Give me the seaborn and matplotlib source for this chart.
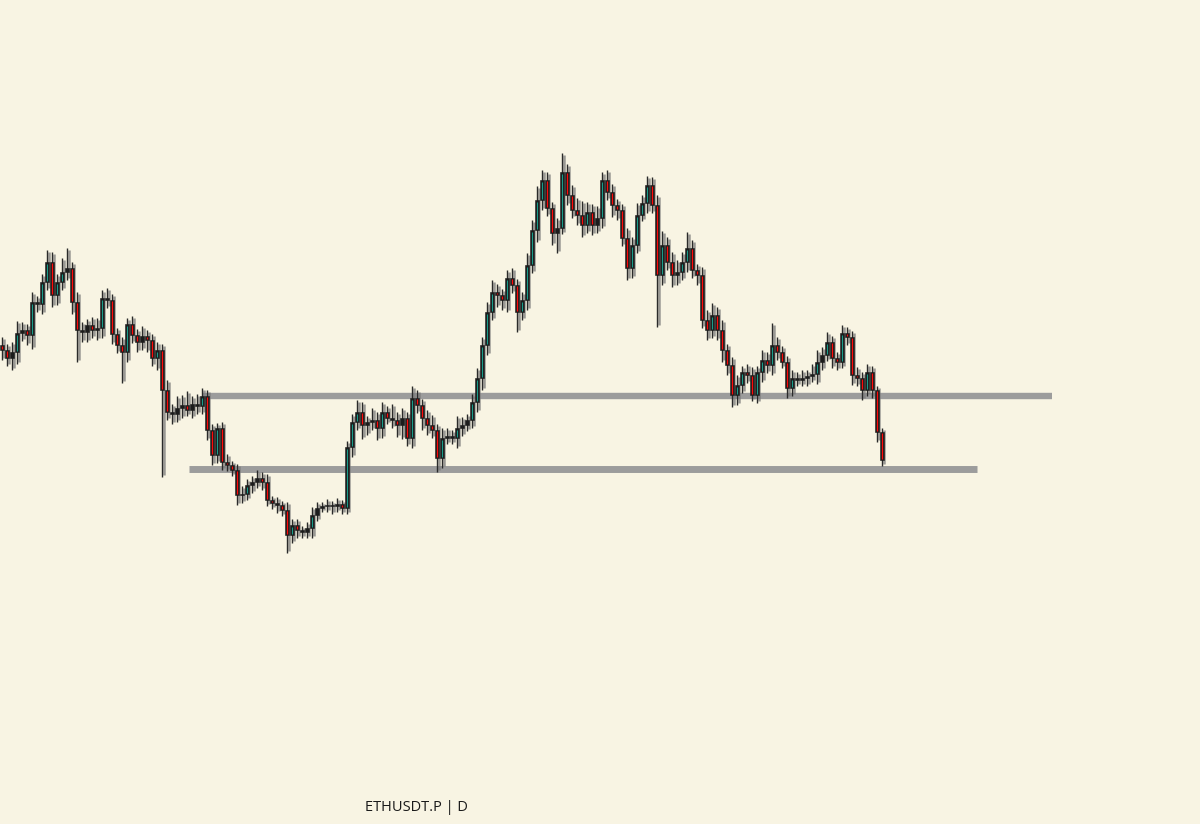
import numpy as np
import pandas as pd
import matplotlib
matplotlib.use("Agg")
import matplotlib.pyplot as plt
import seaborn as sns

# ---- data (daily ETHUSDT.P, price units) ----
first_open = 479
closes = [
    474, 466, 472, 491, 494, 489, 522, 520, 542, 562,
    529, 542, 552, 556, 522, 494, 492, 499, 494, 496,
    526, 524, 490, 479, 472, 500, 489, 482, 488, 484,
    466, 474, 434, 412, 410, 416, 419, 414, 420, 418,
    428, 394, 369, 396, 362, 359, 354, 329, 330, 339,
    342, 346, 342, 324, 321, 319, 314, 289, 299, 294,
    292, 296, 309, 316, 318, 319, 318, 320, 316, 377,
    402, 412, 399, 402, 404, 396, 412, 406, 404, 399,
    406, 386, 426, 419, 406, 399, 394, 366, 386, 388,
    386, 396, 399, 404, 422, 446, 479, 512, 532, 529,
    524, 546, 539, 512, 524, 559, 594, 624, 644, 616,
    591, 596, 652, 629, 614, 609, 599, 612, 599, 606,
    644, 632, 619, 614, 586, 556, 579, 609, 621, 639,
    619, 549, 579, 562, 549, 552, 562, 576, 554, 549,
    504, 494, 509, 494, 474, 459, 429, 439, 452, 449,
    429, 452, 464, 459, 479, 472, 462, 436, 446, 444,
    446, 448, 450, 462, 469, 482, 466, 462, 491, 487,
    449, 446, 434, 452, 434, 392, 364,
]
upper_wick = [
    8, 6, 10, 12, 8, 6, 10, 6, 8, 12,
    10, 8, 14, 20, 6, 10, 8, 6, 8, 10,
    8, 10, 6, 6, 8, 6, 8, 6, 10, 6,
    6, 8, 6, 10, 8, 12, 10, 14, 8, 10,
    8, 6, 6, 5, 6, 8, 4, 6, 8, 6,
    6, 8, 6, 8, 4, 6, 4, 8, 6, 6,
    4, 6, 8, 6, 4, 6, 4, 6, 4, 6,
    8, 12, 10, 6, 12, 8, 10, 6, 14, 8,
    10, 6, 12, 8, 6, 8, 10, 6, 10, 8,
    6, 12, 8, 6, 8, 10, 8, 10, 12, 8,
    6, 8, 10, 6, 8, 12, 10, 14, 10, 8,
    6, 10, 19, 8, 10, 12, 14, 10, 8, 12,
    8, 10, 8, 6, 6, 10, 8, 12, 8, 9,
    8, 10, 14, 8, 10, 12, 10, 16, 8, 6,
    8, 10, 12, 8, 10, 6, 8, 10, 6, 8,
    8, 6, 10, 8, 22, 8, 6, 6, 8, 6,
    8, 6, 10, 12, 8, 10, 6, 6, 8, 6,
    6, 8, 6, 8, 6, 4, 4,
]
lower_wick = [
    10, 8, 12, 12, 8, 10, 14, 8, 10, 8,
    12, 10, 8, 8, 12, 32, 10, 10, 8, 10,
    10, 8, 10, 8, 31, 10, 8, 10, 8, 12,
    8, 12, 87, 8, 10, 8, 10, 6, 8, 8,
    8, 10, 10, 8, 8, 6, 6, 10, 8, 6,
    8, 6, 8, 6, 6, 8, 6, 18, 8, 8,
    6, 6, 10, 6, 4, 6, 8, 6, 6, 6,
    10, 8, 14, 10, 8, 12, 10, 6, 8, 12,
    14, 8, 10, 8, 12, 10, 8, 14, 10, 6,
    6, 10, 8, 6, 8, 10, 12, 10, 8, 12,
    10, 12, 8, 20, 8, 10, 8, 12, 10, 8,
    12, 20, 6, 10, 8, 10, 12, 8, 10, 8,
    10, 8, 12, 10, 8, 12, 10, 8, 6, 10,
    8, 52, 10, 8, 12, 10, 8, 10, 8, 10,
    8, 10, 8, 10, 12, 10, 12, 10, 8, 8,
    6, 8, 10, 8, 10, 8, 6, 10, 8, 6,
    6, 8, 6, 10, 8, 6, 10, 8, 6, 8,
    10, 8, 10, 6, 8, 10, 6,
]
levels = [428, 355]          # horizontal zones
title = "ETHUSDT.P | D"

# ---- build OHLC table ----
df = pd.DataFrame({"close": closes})
df["open"] = [first_open] + closes[:-1]
df["top"] = df[["open", "close"]].max(axis=1)
df["bot"] = df[["open", "close"]].min(axis=1)
df["high"] = df["top"] + np.array(upper_wick)
df["low"] = df["bot"] - np.array(lower_wick)
df["idx"] = np.arange(len(df))
df["up"] = df["close"] >= df["open"]
df["size"] = df["top"] - df["bot"]

bg = "#F8F4E3"
sns.set_theme(style="white", rc={"axes.facecolor": bg, "figure.facecolor": bg})
plt.rcParams["font.family"] = ["Open Sans", "DejaVu Sans"]

fig = plt.figure(figsize=(12, 8.24), dpi=100)
ax = fig.add_axes([0, 0, 1, 1])
ax.set_facecolor(bg)

# horizontal zones
ax.hlines(levels[0], 40.2, 210, color="#9c9c9c", linewidth=4.6, zorder=1)
ax.hlines(levels[1], 37.4, 195, color="#9c9c9c", linewidth=5.0, zorder=1)

# wicks (soft gray halo + dark core)
ax.vlines(df["idx"] + 0.4, df["low"] + 2, df["high"] - 2, color="#7a7a7a", linewidth=1.8, alpha=0.75, zorder=2)
ax.vlines(df["idx"], df["low"], df["high"], color="#2a2a2a", linewidth=1.0, zorder=3)

# bodies: dark blocks with a thin coloured core
height = df["size"].clip(lower=1.2)
ax.bar(df["idx"], height, bottom=df["bot"], width=0.62, color="#1c1c1c",
       edgecolor="#1c1c1c", linewidth=0.4, zorder=4)
down = df[(~df["up"]) & (df["size"] >= 3)]
up = df[df["up"] & (df["size"] >= 8)]
ax.vlines(down["idx"] + 0.05, down["bot"] + 0.8, down["top"] - 0.8, color="#ff0a0a",
          linewidth=0.9, zorder=5)
ax.vlines(up["idx"] + 0.05, up["bot"] + 1.5, up["top"] - 1.5, color="#1a9c8a",
          linewidth=0.8, zorder=5)

ax.set_xlim(-0.4, 239.6)
ax.set_ylim(0, 824)
ax.axis("off")

fig.text(0.304, 0.0206, title, fontsize=10.5, color="#1a1a1a", ha="left", va="center")

fig.savefig("out.png", dpi=100, facecolor=bg)
